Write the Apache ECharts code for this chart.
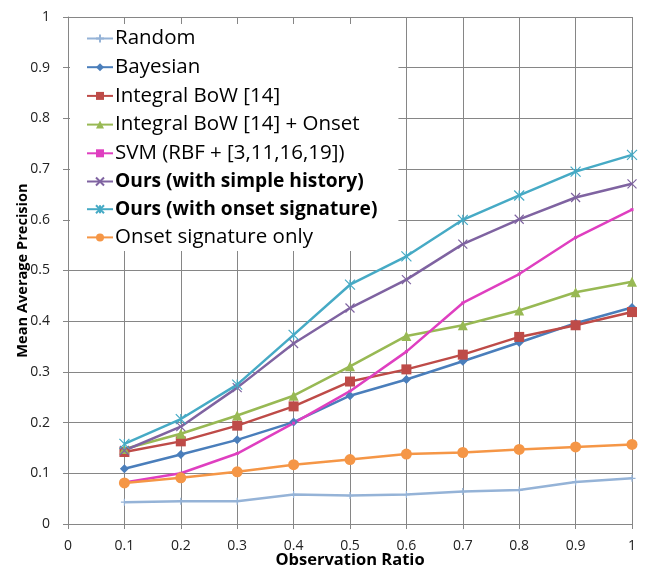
<!DOCTYPE html>
<html>
<head>
<meta charset="utf-8">
<script src="https://cdn.jsdelivr.net/npm/echarts@6/dist/echarts.min.js"></script>
<style>
  html, body { margin: 0; padding: 0; background: #fff; }
  #chart { width: 646px; height: 568px; }
</style>
</head>
<body>
<div id="chart"></div>
<script>
// observation ratio (x)
const ratios = [0.1, 0.2, 0.3, 0.4, 0.5, 0.6, 0.7, 0.8, 0.9, 1];

// mean average precision per method
const random = [0.043, 0.045, 0.045, 0.058, 0.056, 0.058, 0.064, 0.067, 0.083, 0.090];
const bayesian = [0.109, 0.137, 0.166, 0.201, 0.253, 0.285, 0.321, 0.358, 0.396, 0.427];
const integralBow = [0.142, 0.163, 0.194, 0.232, 0.281, 0.305, 0.334, 0.369, 0.392, 0.418];
const integralBowOnset = [0.148, 0.178, 0.214, 0.253, 0.311, 0.371, 0.392, 0.421, 0.457, 0.478];
const svm = [0.082, 0.100, 0.139, 0.199, 0.262, 0.340, 0.436, 0.493, 0.565, 0.620];
const oursHistory = [0.145, 0.192, 0.269, 0.356, 0.426, 0.482, 0.552, 0.601, 0.644, 0.671];
const oursOnset = [0.158, 0.207, 0.275, 0.373, 0.472, 0.528, 0.600, 0.648, 0.695, 0.728];
const onsetOnly = [0.081, 0.091, 0.103, 0.117, 0.127, 0.138, 0.141, 0.147, 0.152, 0.157];

const font = 'Open Sans';

// helper: zip x with y
function pts(arr) {
  return arr.map((v, i) => [ratios[i], v]);
}

const crossPath = 'path://M5,0L5,10M0,5L10,5';
const xPath = 'path://M0,0L10,10M10,0L0,10';
const starPath = 'path://M0,0L10,10M10,0L0,10M5,0L5,10';

function mk(name, data, color, symbol, size, strokeSym) {
  return {
    name: name,
    type: 'line',
    data: pts(data),
    symbol: symbol,
    symbolSize: size,
    lineStyle: { color: color, width: 2.5 },
    itemStyle: strokeSym
      ? { color: color, borderColor: color, borderWidth: 1.2 }
      : { color: color, borderWidth: 0 },
    emphasis: { disabled: true },
    animation: false
  };
}

const series = [
  mk('Random', random, '#95B3D7', crossPath, 7, true),
  mk('Bayesian', bayesian, '#4A7EBB', 'diamond', 9),
  mk('Integral BoW [14]', integralBow, '#BE4B48', 'rect', 10),
  mk('Integral BoW [14] + Onset', integralBowOnset, '#98B954', 'triangle', 10),
  mk('SVM (RBF + [3,11,16,19])', svm, '#DF3FC0', 'rect', 3),
  mk('Ours (with simple history)', oursHistory, '#7F63A1', xPath, 9, true),
  mk('Ours (with onset signature)', oursOnset, '#46AAC5', starPath, 10, true),
  mk('Onset signature only', onsetOnly, '#F59646', 'circle', 11)
];

const legendNames = series.map(s => s.name);

const chart = echarts.init(document.getElementById('chart'));
chart.setOption({
  backgroundColor: '#fff',
  animation: false,
  grid: { left: 68, right: 14, top: 17, bottom: 44, outerBoundsMode: 'none' },
  legend: {
    orient: 'vertical',
    left: 70,
    top: 24,
    backgroundColor: '#fff',
    padding: [4, 21, 3, 16],
    itemGap: 7.7,
    itemWidth: 26,
    itemHeight: 10,
    textStyle: { fontFamily: font, fontSize: 20.5, lineHeight: 20, color: '#000', padding: [0, 0, 0, -3] },
    data: legendNames.map((n, i) => ({
      name: n,
      textStyle: (i === 5 || i === 6) ? { fontWeight: 'bold', fontSize: 19.2 } : {}
    }))
  },
  xAxis: {
    type: 'value',
    min: 0,
    max: 1,
    interval: 0.1,
    name: 'Observation Ratio',
    nameLocation: 'middle',
    nameGap: 28,
    nameMoveOverlap: false,
    nameTextStyle: { fontFamily: font, fontSize: 16.5, fontWeight: 'bold', color: '#000' },
    axisLine: { show: true, lineStyle: { color: '#868686', width: 1 } },
    axisTick: { show: true, length: 5, lineStyle: { color: '#868686' } },
    axisLabel: { fontFamily: font, fontSize: 14, color: '#222', margin: 15 },
    splitLine: { show: true, lineStyle: { color: '#868686', width: 1 } }
  },
  yAxis: {
    type: 'value',
    min: 0,
    max: 1,
    interval: 0.1,
    name: 'Mean Average Precision',
    nameLocation: 'middle',
    nameGap: 38,
    nameMoveOverlap: false,
    nameTextStyle: { fontFamily: font, fontSize: 14.6, fontWeight: 'bold', color: '#000' },
    axisLine: { show: true, lineStyle: { color: '#868686', width: 1 } },
    axisTick: { show: true, length: 5, lineStyle: { color: '#868686' } },
    axisLabel: { fontFamily: font, fontSize: 14, color: '#222', margin: 18 },
    splitLine: { show: true, lineStyle: { color: '#868686', width: 1 } }
  },
  series: series
});
</script>
</body>
</html>
